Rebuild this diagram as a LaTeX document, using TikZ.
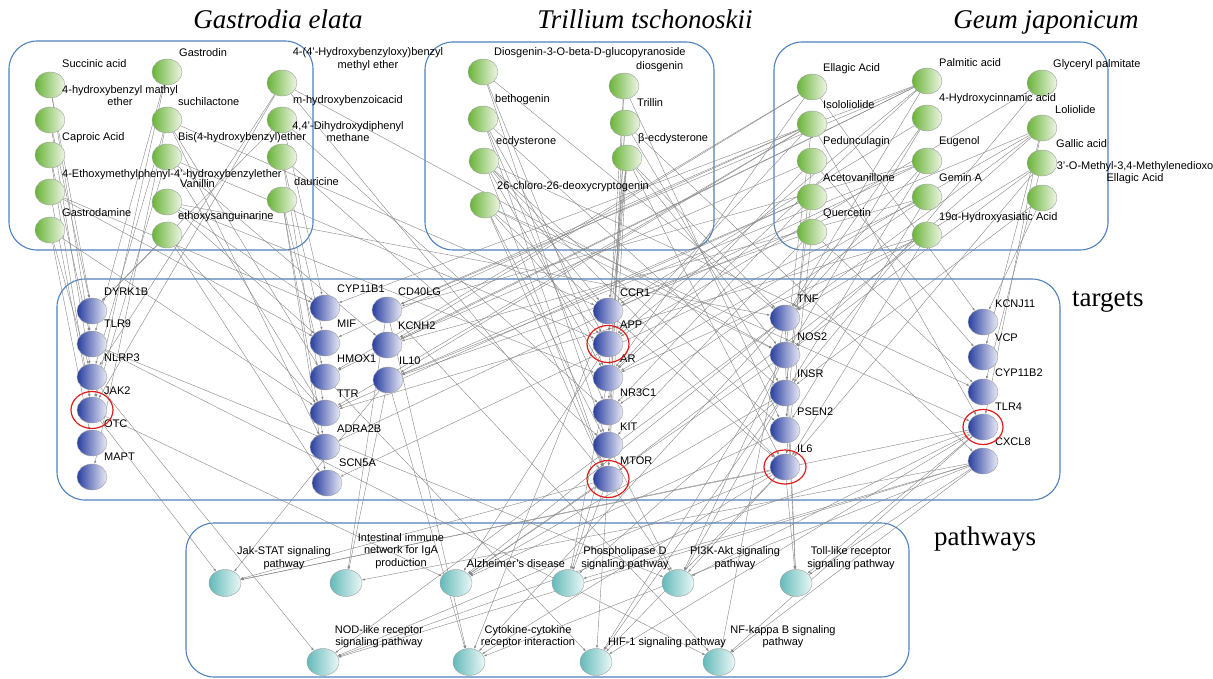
\documentclass[tikz,border=0pt]{standalone}
\usepackage{fontspec}
\setmainfont{Liberation Sans}
\newfontfamily\titlefont{Liberation Serif}
\usetikzlibrary{shapes.geometric,arrows.meta}
\pgfdeclarelayer{bg}
\pgfsetlayers{bg,main}
\definecolor{boxblue}{RGB}{79,129,189}
\definecolor{edgegray}{RGB}{135,135,135}
\definecolor{gdark}{RGB}{105,180,55}
\definecolor{glight}{RGB}{238,246,230}
\definecolor{bdark}{RGB}{40,62,160}
\definecolor{blight}{RGB}{232,234,246}
\definecolor{cdark}{RGB}{100,185,185}
\definecolor{clight}{RGB}{235,248,248}
\definecolor{hlred}{RGB}{225,30,30}
\begin{document}
\begin{tikzpicture}[x=1pt,y=-1pt,
  basenode/.style={ellipse, draw=gray!75, line width=0.4pt, inner sep=0pt},
  compound/.style={basenode, minimum width=30pt, minimum height=26pt, left color=gdark, right color=glight},
  target/.style={basenode, minimum width=30pt, minimum height=26pt, left color=bdark, right color=blight},
  pathnode/.style={basenode, minimum width=32pt, minimum height=27pt, left color=cdark, right color=clight},
  lbl/.style={font=\fontsize{11}{12.5}\selectfont, inner sep=0pt, anchor=west},
  clbl/.style={font=\fontsize{11}{12.5}\selectfont, inner sep=0pt, align=center},
  grp/.style={draw=boxblue, line width=1.1pt, rounded corners=28pt},
  ttl/.style={font=\titlefont\itshape\fontsize{27}{30}\selectfont, inner sep=0pt, anchor=base},
  sect/.style={font=\titlefont\fontsize{27}{30}\selectfont, inner sep=0pt, anchor=base west},
  edge/.style={draw=edgegray, line width=0.4pt, -{Latex[length=3pt,width=2.2pt]}},
  hl/.style={draw=hlred, line width=1.2pt}]

\useasboundingbox (0,0) rectangle (1213,679);

% ---------- titles ----------
\node[ttl] (t-gas) at (278,29) {Gastrodia elata};
\node[ttl] (t-tri) at (645,29) {Trillium tschonoskii};
\node[ttl] (t-geu) at (1046,29) {Geum japonicum};
\node[sect] (t-tar) at (1072,306) {targets};
\node[sect] (t-pat) at (934,545) {pathways};

% ---------- Gastrodia elata compounds ----------
\node[compound] (ga1) at (50,85) {};
\node[compound] (ga2) at (50,120) {};
\node[compound] (ga3) at (50,155) {};
\node[compound] (ga4) at (50,192) {};
\node[compound] (ga5) at (50,230) {};
\node[compound] (gb1) at (167,72) {};
\node[compound] (gb2) at (167,120) {};
\node[compound] (gb3) at (167,157) {};
\node[compound] (gb4) at (167,202) {};
\node[compound] (gb5) at (167,235) {};
\node[compound] (gc1) at (282,83) {};
\node[compound] (gc2) at (282,120) {};
\node[compound] (gc3) at (282,157) {};
\node[compound] (gc4) at (282,200) {};
\node[lbl] (l-ga1) at (62,64) {Succinic acid};
\node[clbl] (l-ga2) at (120,95.5) {4-hydroxybenzyl mathyl\\ether};
\node[lbl] (l-ga3) at (62,138) {Caproic Acid};
\node[lbl] (l-ga4) at (62,175) {4-Ethoxymethylphenyl-4'-hydroxybenzylether};
\node[lbl] (l-ga5) at (62,213) {Gastrodamine};
\node[lbl] (l-gb1) at (179,53) {Gastrodin};
\node[lbl] (l-gb2) at (178,102) {suchilactone};
\node[lbl] (l-gb3) at (178,138) {Bis(4-hydroxybenzyl)ether};
\node[lbl] (l-gb4) at (180,184) {Vanillin};
\node[lbl] (l-gb5) at (178,217) {ethoxysanguinarine};
\node[clbl] (l-gc1) at (368,59) {4-(4'-Hydroxybenzyloxy)benzyl\\methyl ether};
\node[lbl] (l-gc2) at (293,101) {m-hydroxybenzoicacid};
\node[clbl] (l-gc3) at (348,131.5) {4,4'-Dihydroxydiphenyl\\methane};
\node[lbl] (l-gc4) at (294,182) {dauricine};

% ---------- Trillium tschonoskii compounds ----------
\node[compound] (ta1) at (483,72) {};
\node[compound] (ta2) at (483,119) {};
\node[compound] (ta3) at (484,161) {};
\node[compound] (ta4) at (485,205) {};
\node[compound] (tb1) at (624,86) {};
\node[compound] (tb2) at (625,123) {};
\node[compound] (tb3) at (627,158) {};
\node[lbl] (l-ta1) at (494,53) {Diosgenin-3-O-beta-D-glucopyranoside};
\node[lbl] (l-ta2) at (495,100) {bethogenin};
\node[lbl] (l-ta3) at (496,142) {ecdysterone};
\node[lbl] (l-ta4) at (497,187) {26-chloro-26-deoxycryptogenin};
\node[lbl] (l-tb1) at (636,67) {diosgenin};
\node[lbl] (l-tb2) at (637,103) {Trillin};
\node[lbl] (l-tb3) at (638,139) {β-ecdysterone};

% ---------- Geum japonicum compounds ----------
\node[compound] (ja1) at (812,87) {};
\node[compound] (ja2) at (812,124) {};
\node[compound] (ja3) at (812,161) {};
\node[compound] (ja4) at (812,197) {};
\node[compound] (ja5) at (812,232) {};
\node[compound] (jb1) at (927,81) {};
\node[compound] (jb2) at (927,118) {};
\node[compound] (jb3) at (927,161) {};
\node[compound] (jb4) at (927,197) {};
\node[compound] (jb5) at (927,235) {};
\node[compound] (jc1) at (1042,83) {};
\node[compound] (jc2) at (1042,128) {};
\node[compound] (jc3) at (1042,163) {};
\node[compound] (jc4) at (1042,198) {};
\node[lbl] (l-ja1) at (823,69) {Ellagic Acid};
\node[lbl] (l-ja2) at (823,105) {Isololiolide};
\node[lbl] (l-ja3) at (823,142) {Pedunculagin};
\node[lbl] (l-ja4) at (823,178) {Acetovanillone};
\node[lbl] (l-ja5) at (823,214) {Quercetin};
\node[lbl] (l-jb1) at (939,63) {Palmitic acid};
\node[lbl] (l-jb2) at (939,99) {4-Hydroxycinnamic acid};
\node[lbl] (l-jb3) at (939,142) {Eugenol};
\node[lbl] (l-jb4) at (939,178) {Gemin A};
\node[lbl] (l-jb5) at (939,218) {19α-Hydroxyasiatic Acid};
\node[lbl] (l-jc1) at (1053,65) {Glyceryl palmitate};
\node[lbl] (l-jc2) at (1055,110) {Loliolide};
\node[lbl] (l-jc3) at (1056,144) {Gallic acid};
\node[clbl] (l-jc4) at (1135,172.5) {3'-O-Methyl-3,4-Methylenedioxo\\Ellagic Acid};

% ---------- targets ----------
\node[target] (DYRK1B) at (92,311) {};
\node[target] (TLR9) at (92,344) {};
\node[target] (NLRP3) at (92,377) {};
\node[target] (JAK2) at (92,410) {};
\node[target] (OTC) at (92,443) {};
\node[target] (MAPT) at (92,477) {};
\node[target] (CYP11B1) at (325,308) {};
\node[target] (MIF) at (325,343) {};
\node[target] (HMOX1) at (325,377) {};
\node[target] (TTR) at (325,413) {};
\node[target] (ADRA2B) at (325,447) {};
\node[target] (SCN5A) at (327,483) {};
\node[target] (CD40LG) at (387,310) {};
\node[target] (KCNH2) at (387,345) {};
\node[target] (IL10) at (388,380) {};
\node[target] (CCR1) at (608,311) {};
\node[target] (APP) at (608,344) {};
\node[target] (AR) at (608,378) {};
\node[target] (NR3C1) at (608,412) {};
\node[target] (KIT) at (608,445) {};
\node[target] (MTOR) at (608,479) {};
\node[target] (TNF) at (785,318) {};
\node[target] (NOS2) at (785,355) {};
\node[target] (INSR) at (785,393) {};
\node[target] (PSEN2) at (785,430) {};
\node[target] (IL6) at (785,467) {};
\node[target] (KCNJ11) at (983,322) {};
\node[target] (VCP) at (983,357) {};
\node[target] (CYP11B2) at (983,392) {};
\node[target] (TLR4) at (983,427) {};
\node[target] (CXCL8) at (983,461) {};
\node[lbl] (l-DYRK1B) at (104,292) {DYRK1B};
\node[lbl] (l-TLR9) at (104,324) {TLR9};
\node[lbl] (l-NLRP3) at (104,358) {NLRP3};
\node[lbl] (l-JAK2) at (104,391) {JAK2};
\node[lbl] (l-OTC) at (104,424) {OTC};
\node[lbl] (l-MAPT) at (104,457) {MAPT};
\node[lbl] (l-CYP11B1) at (337,289) {CYP11B1};
\node[lbl] (l-MIF) at (337,324) {MIF};
\node[lbl] (l-HMOX1) at (337,359) {HMOX1};
\node[lbl] (l-TTR) at (337,394) {TTR};
\node[lbl] (l-ADRA2B) at (337,429) {ADRA2B};
\node[lbl] (l-SCN5A) at (339,463) {SCN5A};
\node[lbl] (l-CD40LG) at (398,292) {CD40LG};
\node[lbl] (l-KCNH2) at (398,326) {KCNH2};
\node[lbl] (l-IL10) at (399,361) {IL10};
\node[lbl] (l-CCR1) at (620,293) {CCR1};
\node[lbl] (l-APP) at (620,325) {APP};
\node[lbl] (l-AR) at (620,359) {AR};
\node[lbl] (l-NR3C1) at (620,393) {NR3C1};
\node[lbl] (l-KIT) at (620,427) {KIT};
\node[lbl] (l-MTOR) at (620,461) {MTOR};
\node[lbl] (l-TNF) at (797,299) {TNF};
\node[lbl] (l-NOS2) at (797,337) {NOS2};
\node[lbl] (l-INSR) at (797,374) {INSR};
\node[lbl] (l-PSEN2) at (797,412) {PSEN2};
\node[lbl] (l-IL6) at (797,449) {IL6};
\node[lbl] (l-KCNJ11) at (995,304) {KCNJ11};
\node[lbl] (l-VCP) at (995,338) {VCP};
\node[lbl] (l-CYP11B2) at (995,373) {CYP11B2};
\node[lbl] (l-TLR4) at (995,407) {TLR4};
\node[lbl] (l-CXCL8) at (995,442) {CXCL8};

% ---------- pathways ----------
\node[pathnode] (p1) at (225,583) {};
\node[pathnode] (p2) at (346,583) {};
\node[pathnode] (p3) at (456,583) {};
\node[pathnode] (p4) at (568,583) {};
\node[pathnode] (p5) at (678,583) {};
\node[pathnode] (p6) at (796,583) {};
\node[pathnode] (p7) at (323,662) {};
\node[pathnode] (p8) at (469,662) {};
\node[pathnode] (p9) at (596,662) {};
\node[pathnode] (p10) at (719,662) {};
\node[clbl] (l-p1) at (284,558) {Jak-STAT signaling\\pathway};
\node[clbl] (l-p2) at (401,551) {Intestinal immune\\network for IgA\\production};
\node[clbl] (l-p3) at (516,564) {Alzheimer's disease};
\node[clbl] (l-p4) at (625,558) {Phospholipase D\\signaling pathway};
\node[clbl] (l-p5) at (735,558) {PI3K-Akt signaling\\pathway};
\node[clbl] (l-p6) at (851,558) {Toll-like receptor\\signaling pathway};
\node[clbl] (l-p7) at (379,636.5) {NOD-like receptor\\signaling pathway};
\node[clbl] (l-p8) at (528,636.5) {Cytokine-cytokine\\receptor interaction};
\node[clbl] (l-p9) at (667,643) {HIF-1 signaling pathway};
\node[clbl] (l-p10) at (783,636.5) {NF-kappa B signaling\\pathway};

% ---------- highlighted targets ----------
\draw[hl] (JAK2.center) ellipse [x radius=21pt, y radius=18.5pt];
\draw[hl] (APP.center) ellipse [x radius=21pt, y radius=18.5pt];
\draw[hl] (MTOR.center) ellipse [x radius=21pt, y radius=18.5pt];
\draw[hl] (IL6.center) ellipse [x radius=21pt, y radius=17pt];
\draw[hl] (TLR4.center) ellipse [x radius=20pt, y radius=17.5pt];

\begin{pgfonlayer}{bg}
\fill[white] (0,0) rectangle (1213,679);
% group boxes
\draw[grp] (9,41) rectangle (313,250);
\draw[grp] (425,42) rectangle (714,250);
\draw[grp] (774,42) rectangle (1108,250);
\draw[grp] (57,279) rectangle (1060,500);
\draw[grp] (186,523) rectangle (909,677);
% compound -> target
\foreach \s/\t in {
 ga1/DYRK1B, ga1/TLR9, ga2/DYRK1B, ga2/NLRP3, ga3/TLR9, ga3/JAK2,
 ga4/JAK2, ga4/CYP11B1, ga4/MIF, ga5/NLRP3, ga5/OTC, ga5/TTR,
 gb1/TLR9, gb1/JAK2, gb2/NLRP3, gb2/MAPT, gb2/HMOX1, gb2/ADRA2B, gb2/CCR1,
 gb3/JAK2, gb3/TTR, gb3/KCNH2, gb3/APP, gb4/CYP11B1, gb4/MIF, gb4/AR, gb4/TNF,
 gb5/DYRK1B, gb5/TTR, gb5/SCN5A, gc1/JAK2, gc1/NLRP3, gc1/MTOR, gc1/NOS2,
 gc2/DYRK1B, gc2/CYP11B1, gc2/NR3C1, gc3/MIF, gc3/TTR, gc3/KIT,
 gc4/ADRA2B, gc4/SCN5A, gc4/HMOX1,
 ta1/AR, ta1/KIT, ta1/TNF, ta2/APP, ta2/NR3C1, ta2/INSR, ta2/MTOR,
 ta3/CCR1, ta3/AR, ta3/MTOR, ta3/PSEN2, ta3/IL6, ta3/CYP11B2,
 ta4/APP, ta4/KIT, ta4/MTOR, ta4/IL6, ta4/NOS2, ta4/TLR4,
 tb1/APP, tb1/MTOR, tb1/PSEN2, tb2/NR3C1, tb2/KIT, tb2/INSR, tb2/CXCL8,
 tb3/CCR1, tb3/APP, tb3/AR, tb3/MTOR, tb3/TNF, tb3/NOS2, tb3/IL6,
 ja1/HMOX1, ja1/KCNH2, ja1/AR, ja1/KCNJ11,
 ja2/CD40LG, ja2/MIF, ja2/IL10, ja2/TTR, ja2/APP, ja2/NOS2, ja2/TLR4,
 ja3/KCNH2, ja3/AR, ja3/PSEN2, ja3/VCP, ja4/IL10, ja4/TTR, ja4/NR3C1, ja4/INSR,
 ja5/IL10, ja5/KIT, ja5/IL6, ja5/CYP11B2,
 jb1/CD40LG, jb1/CYP11B1, jb1/KCNH2, jb1/HMOX1, jb1/AR, jb1/APP, jb1/TNF,
 jb2/CCR1, jb2/NOS2, jb2/TNF, jb3/CD40LG, jb3/IL10, jb3/ADRA2B, jb3/TNF, jb3/INSR,
 jb4/KCNH2, jb4/SCN5A, jb4/NR3C1, jb4/PSEN2, jb5/TTR, jb5/AR, jb5/MTOR, jb5/IL6,
 jc1/APP, jc1/INSR, jc2/CCR1, jc2/AR, jc2/TNF, jc2/NOS2, jc2/VCP, jc2/TLR4,
 jc3/TNF, jc3/NOS2, jc3/IL6, jc3/CYP11B2, jc4/INSR, jc4/KCNJ11}
 \draw[edge] (\s) -- (\t);
% target -> pathway
\foreach \s/\t in {
 JAK2/p1, IL6/p1, IL10/p1, MTOR/p1, TLR4/p1,
 CD40LG/p2, IL10/p2, CXCL8/p2,
 APP/p3, PSEN2/p3, TNF/p3, NOS2/p3, INSR/p3, MTOR/p3, JAK2/p3,
 INSR/p4, KIT/p4, MTOR/p4, CXCL8/p4, AR/p4,
 IL6/p5, KIT/p5, MTOR/p5, INSR/p5, TLR4/p5, TLR9/p5, NOS2/p5,
 TLR4/p6, TNF/p6, IL6/p6, CXCL8/p6, NOS2/p6,
 NLRP3/p7, TNF/p7, IL6/p7, CXCL8/p7, TLR4/p7,
 CCR1/p8, CD40LG/p8, IL10/p8, IL6/p8, TNF/p8, CXCL8/p8,
 HMOX1/p9, IL6/p9, INSR/p9, MTOR/p9, NOS2/p9, TLR4/p9,
 TNF/p10, TLR4/p10, CXCL8/p10, CD40LG/p10, TLR9/p10}
 \draw[edge] (\s) -- (\t);
\end{pgfonlayer}
\end{tikzpicture}
\end{document}
